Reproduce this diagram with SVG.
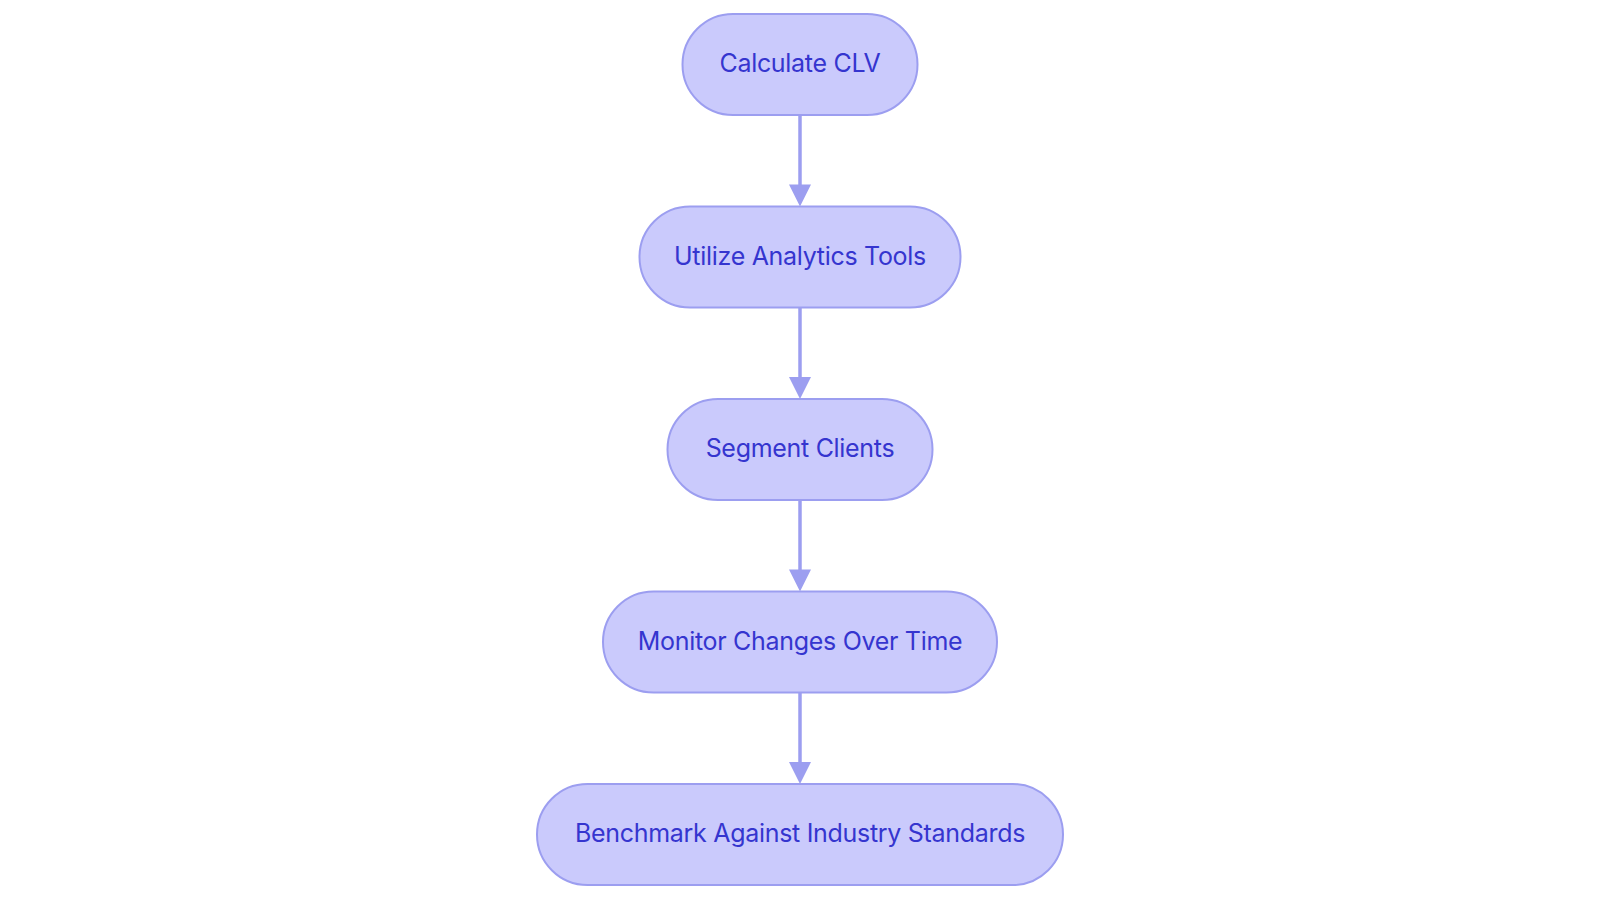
<svg xmlns="http://www.w3.org/2000/svg" width="1600" height="903" viewBox="0 0 1600 903">
<style>
.node rect{fill:#cacafc;stroke:#9c9ef0;stroke-width:2}
.node text{font-family:Inter,"Noto Sans",sans-serif;font-size:25px;letter-spacing:-0.3px;fill:#3535cf;text-anchor:middle}
.edge{stroke:#9c9ef0;stroke-width:3.5;fill:none}
.head{fill:#9c9ef0}
</style>
<rect width="1600" height="903" fill="#ffffff"/>
<g id="connectors">
<line class="edge" x1="800" y1="115" x2="800" y2="188"/>
<polygon class="head" points="789,184.5 811,184.5 800,206.5"/>
<line class="edge" x1="800" y1="307.5" x2="800" y2="380.5"/>
<polygon class="head" points="789,377 811,377 800,399"/>
<line class="edge" x1="800" y1="500" x2="800" y2="573"/>
<polygon class="head" points="789,569.5 811,569.5 800,591.5"/>
<line class="edge" x1="800" y1="692.5" x2="800" y2="765.5"/>
<polygon class="head" points="789,762 811,762 800,784"/>
</g>
<g id="node-calculate" class="node">
<rect x="682.5" y="14" width="235" height="101" rx="50.5"/>
<text x="800" y="72">Calculate CLV</text>
</g>
<g id="node-utilize" class="node">
<rect x="639.5" y="206.5" width="321" height="101" rx="50.5"/>
<text x="800" y="264.5">Utilize Analytics Tools</text>
</g>
<g id="node-segment" class="node">
<rect x="667.5" y="399" width="265" height="101" rx="50.5"/>
<text x="800" y="457">Segment Clients</text>
</g>
<g id="node-monitor" class="node">
<rect x="603" y="591.5" width="394" height="101" rx="50.5"/>
<text x="800" y="649.5">Monitor Changes Over Time</text>
</g>
<g id="node-benchmark" class="node">
<rect x="537" y="784" width="526" height="101" rx="50.5"/>
<text x="800" y="842">Benchmark Against Industry Standards</text>
</g>
</svg>
